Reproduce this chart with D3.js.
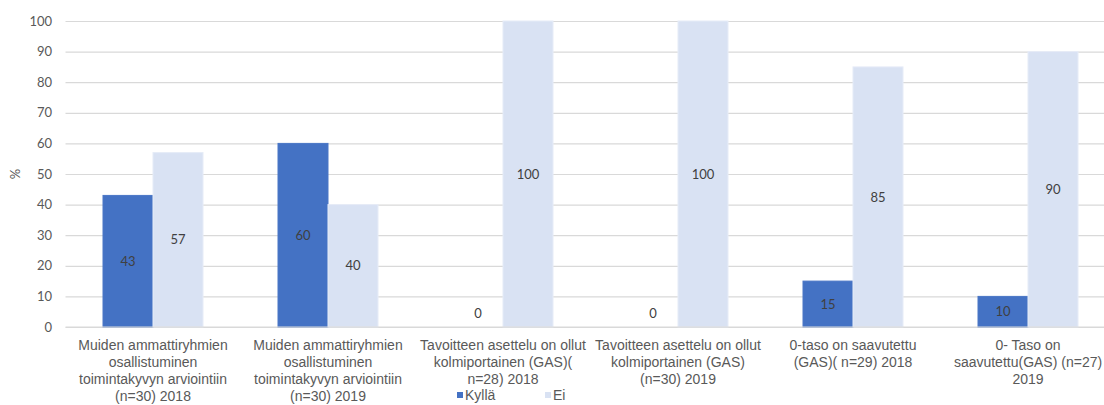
<!DOCTYPE html>
<html>
<head>
<meta charset="utf-8">
<script src="https://cdn.jsdelivr.net/npm/d3@7"></script>
<style>
  html, body { margin: 0; padding: 0; background: #fff; }
  svg { display: block; }
</style>
</head>
<body>
<svg id="chart" width="1104" height="405"></svg>
<script>
// Category labels, one entry per line as wrapped under the axis
const categories = [
  ["Muiden ammattiryhmien", "osallistuminen", "toimintakyvyn arviointiin", "(n=30) 2018"],
  ["Muiden ammattiryhmien", "osallistuminen", "toimintakyvyn arviointiin", "(n=30) 2019"],
  ["Tavoitteen asettelu on ollut", "kolmiportainen (GAS)(", "n=28) 2018"],
  ["Tavoitteen asettelu on ollut", "kolmiportainen (GAS)", "(n=30) 2019"],
  ["0-taso on saavutettu", "(GAS)( n=29) 2018"],
  ["0- Taso on", "saavutettu(GAS) (n=27)", "2019"]
];
const seriesNames = ["Kyllä", "Ei"];
const kylla = [43, 60, 0, 0, 15, 10];
const ei = [57, 40, 100, 100, 85, 90];
const yTicks = [0, 10, 20, 30, 40, 50, 60, 70, 80, 90, 100];
const colors = ["#4472C4", "#D9E2F3"];

const svg = d3.select("#chart");
const margin = { left: 65.5, top: 21, bottom: 78 };
const bandWidth = 175;
const plotW = bandWidth * categories.length;
const plotH = 405 - margin.top - margin.bottom;

const x0 = d3.scaleBand()
  .domain(d3.range(categories.length))
  .range([margin.left, margin.left + plotW])
  .paddingInner(75 / 175)
  .paddingOuter(75 / 175 / 2);
const x1 = d3.scaleBand().domain(seriesNames).range([0, x0.bandwidth()]);
const y = d3.scaleLinear().domain([0, 100]).range([margin.top + plotH, margin.top]);

// gridlines
svg.append("g")
  .attr("transform", `translate(${margin.left},0)`)
  .call(d3.axisLeft(y).tickValues(yTicks).tickSize(-(1104 - margin.left)).tickFormat(""))
  .call(g => g.select(".domain").remove())
  .call(g => g.selectAll("line").attr("stroke", "#D9D9D9").attr("stroke-width", 1.2));

// tick labels
svg.append("g")
  .attr("transform", `translate(52,0)`)
  .call(d3.axisLeft(y).tickValues(yTicks).tickSize(0).tickPadding(0))
  .call(g => g.select(".domain").remove())
  .call(g => g.selectAll("text")
    .attr("fill", "#595959")
    .attr("font-family", "Lato, 'Open Sans', sans-serif")
    .attr("font-size", 13));

// y axis title
svg.append("text")
  .attr("transform", `translate(20,${y(50)}) rotate(-90)`)
  .attr("text-anchor", "middle")
  .attr("fill", "#595959")
  .attr("font-family", "Lato, sans-serif")
  .attr("font-size", 13)
  .text("%");

const rows = categories.map((c, i) => ({ i, values: [kylla[i], ei[i]] }));

const groups = svg.append("g").selectAll("g")
  .data(rows).join("g")
  .attr("transform", d => `translate(${x0(d.i)},0)`);

groups.selectAll("rect")
  .data(d => d.values.map((v, k) => ({ v, k })))
  .join("rect")
  .attr("x", d => x1(seriesNames[d.k]))
  .attr("width", x1.bandwidth())
  .attr("y", d => y(d.v))
  .attr("height", d => y(0) - y(d.v))
  .attr("fill", d => colors[d.k])
  .attr("stroke", d => d.k === 0 ? "#4a76c6" : "#e6ecf7")
  .attr("stroke-width", 1);

// value labels centred in bars
groups.selectAll("text.val")
  .data(d => d.values.map((v, k) => ({ v, k })))
  .join("text")
  .attr("class", "val")
  .attr("x", d => x1(seriesNames[d.k]) + x1.bandwidth() / 2)
  .attr("y", d => d.v === 0 ? y(0) - 14 : (y(d.v) + y(0)) / 2)
  .attr("dy", "0.35em")
  .attr("text-anchor", "middle")
  .attr("fill", "#404040")
  .attr("font-family", "Lato, 'Open Sans', sans-serif")
  .attr("font-size", 13)
  .text(d => d.v);

// baseline
svg.append("line")
  .attr("x1", margin.left).attr("x2", 1104)
  .attr("y1", y(0)).attr("y2", y(0))
  .attr("stroke", "#D9D9D9").attr("stroke-width", 1.2);

// category labels
const catG = svg.append("g");
categories.forEach((lines, i) => {
  const t = catG.append("text")
    .attr("x", x0(i) + x0.bandwidth() / 2)
    .attr("y", 350)
    .attr("text-anchor", "middle")
    .attr("fill", "#595959")
    .attr("font-family", "'Liberation Sans', Arial, sans-serif")
    .attr("font-size", 14);
  lines.forEach((ln, j) => {
    t.append("tspan")
      .attr("x", x0(i) + x0.bandwidth() / 2)
      .attr("dy", j === 0 ? 0 : 17)
      .text(ln);
  });
});

// legend
const legendX = [457, 545];
const legend = svg.append("g");
seriesNames.forEach((name, k) => {
  legend.append("rect")
    .attr("x", legendX[k]).attr("y", 392)
    .attr("width", 6).attr("height", 6)
    .attr("fill", colors[k]);
  legend.append("text")
    .attr("x", legendX[k] + 8).attr("y", 395)
    .attr("dy", "0.35em")
    .attr("fill", "#595959")
    .attr("font-family", "'Liberation Sans', Arial, sans-serif")
    .attr("font-size", 14)
    .text(name);
});
</script>
</body>
</html>
